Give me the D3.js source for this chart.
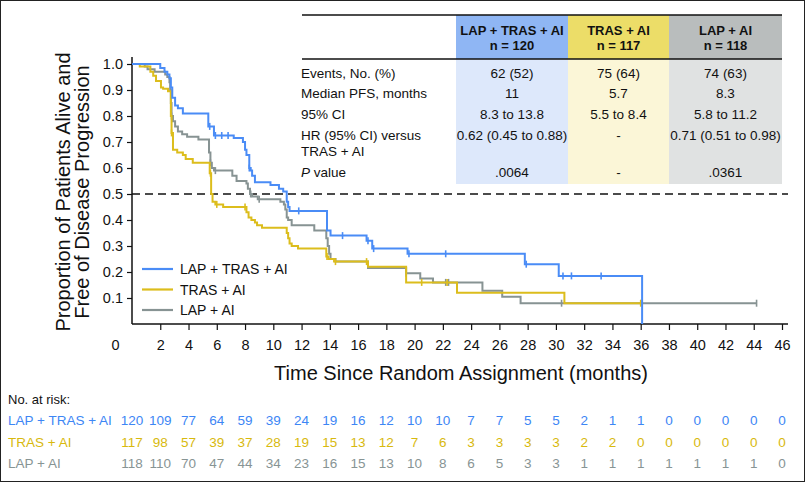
<!DOCTYPE html>
<html><head><meta charset="utf-8">
<script src="https://cdn.jsdelivr.net/npm/d3@7"></script>
<style>body{margin:0;background:#fff}svg{display:block}text{font-family:"Liberation Sans",Arial,Helvetica,sans-serif}</style>
</head><body><svg id="c" width="805" height="482"></svg>
<script>
const groups = ["LAP + TRAS + AI", "TRAS + AI", "LAP + AI"];
const colors = ["#4a8cf6", "#dcbd1c", "#879393"];

// Kaplan-Meier steps: [time (months), survival from that time on]
const stepsLTA = [[0,1.0],[2.0,0.985],[2.3,0.97],[2.5,0.96],[2.65,0.945],[2.75,0.91],[2.85,0.87],[3.05,0.84],[3.25,0.83],[3.6,0.81],[5.4,0.76],[5.8,0.725],[7.2,0.715],[7.85,0.70],[8.0,0.67],[8.1,0.65],[8.3,0.60],[8.4,0.59],[8.5,0.57],[8.7,0.545],[9.8,0.535],[10.4,0.52],[10.7,0.51],[10.95,0.47],[11.05,0.45],[11.15,0.435],[13.8,0.36],[14.05,0.34],[16.6,0.32],[17.0,0.29],[19.5,0.27],[27.8,0.23],[30.2,0.185],[36.1,0]];
const censLTA = [5.5,5.9,6.35,6.8,8.3,11.8,14.9,16.7,17.1,19.6,22.2,27.9,30.5,31.1,33.2];
const endLTA = 36.1;

const stepsTA = [[0,1.0],[0.55,0.99],[1.3,0.97],[1.5,0.955],[1.7,0.935],[2.05,0.91],[2.2,0.905],[2.55,0.895],[2.75,0.80],[2.8,0.735],[2.9,0.67],[3.2,0.66],[3.6,0.65],[3.8,0.635],[4.3,0.62],[5.5,0.58],[5.6,0.50],[5.7,0.47],[5.9,0.46],[6.45,0.45],[8.1,0.43],[8.25,0.41],[8.45,0.40],[8.7,0.39],[8.85,0.38],[9.2,0.37],[10.95,0.35],[11.05,0.33],[11.15,0.31],[11.3,0.30],[11.75,0.29],[13.75,0.26],[13.9,0.25],[14.3,0.24],[16.7,0.22],[19.4,0.16],[23.0,0.12],[30.6,0.08]];
const censTA = [2.8,5.55,6.0,8.0,13.8,14.4,16.6,20.5,22.3,36.0];
const endTA = 36.1;

const stepsLA = [[0,1.0],[0.9,0.99],[1.1,0.98],[1.6,0.97],[2.35,0.96],[2.5,0.95],[2.65,0.93],[2.7,0.90],[2.75,0.85],[2.8,0.80],[2.9,0.78],[3.05,0.76],[3.25,0.74],[3.55,0.73],[3.9,0.72],[4.7,0.71],[5.45,0.66],[5.55,0.62],[5.65,0.60],[5.8,0.59],[7.1,0.57],[7.4,0.55],[8.1,0.54],[8.2,0.52],[8.35,0.50],[8.5,0.49],[8.9,0.48],[10.5,0.47],[10.75,0.46],[10.85,0.44],[10.95,0.41],[11.05,0.40],[11.3,0.38],[12.9,0.36],[13.75,0.33],[13.85,0.30],[13.95,0.27],[14.05,0.25],[14.4,0.24],[16.7,0.215],[19.4,0.195],[20.4,0.175],[21.3,0.16],[24.8,0.128],[26.2,0.105],[27.5,0.08]];
const censLA = [2.8,5.55,5.9,8.4,9.0,19.4,22.2,22.4,30.4,44.2];
const endLA = 44.2;

const xTicks = d3.range(0, 47, 2);
const yTicks = [0.1,0.2,0.3,0.4,0.5,0.6,0.7,0.8,0.9,1.0];

const atRiskLTA = [120,109,77,64,59,39,24,19,16,12,10,10,7,7,5,5,2,1,1,0,0,0,0,0];
const atRiskTA  = [117,98,57,39,37,28,19,15,13,12,7,6,3,3,3,3,2,2,0,0,0,0,0,0];
const atRiskLA  = [118,110,70,47,44,34,23,16,15,13,10,8,6,5,3,3,1,1,1,1,1,1,1,0];

const tableRows = [["Events, No. (%)"],["Median PFS, months"],["95% CI"],["HR (95% CI) versus","TRAS + AI"],["P value"]];
const tableHead = [["LAP + TRAS + AI","n = 120"],["TRAS + AI","n = 117"],["LAP + AI","n = 118"]];
const tableLTA = ["62 (52)","11","8.3 to 13.8","0.62 (0.45 to 0.88)",".0064"];
const tableTA  = ["75 (64)","5.7","5.5 to 8.4","-","-"];
const tableLA  = ["74 (63)","8.3","5.8 to 11.2","0.71 (0.51 to 0.98)",".0361"];

const svg = d3.select("#c");
svg.append("rect").attr("x",0.5).attr("y",0.5).attr("width",804).attr("height",481).attr("fill","#fff").attr("stroke","#222").attr("stroke-width",1);

const x = d3.scaleLinear().domain([0,46]).range([132,782]);
const y = d3.scaleLinear().domain([0,1]).range([324,64]);

// table
const colX = [456,568,669,782];
const headBg = ["#8fb6f4","#ecdd68","#b9bdbd"];
const bodyBg = ["#dde8fb","#fbf6d7","#e0e2e2"];
const tTop = 15, tHead = 59, tBot = 184;
for (let i=0;i<3;i++){
  svg.append("rect").attr("x",colX[i]).attr("y",tTop).attr("width",colX[i+1]-colX[i]).attr("height",tHead-tTop).attr("fill",headBg[i]);
  svg.append("rect").attr("x",colX[i]).attr("y",tHead).attr("width",colX[i+1]-colX[i]).attr("height",tBot-tHead).attr("fill",bodyBg[i]);
}
svg.append("line").attr("x1",302).attr("x2",782).attr("y1",tTop).attr("y2",tTop).attr("stroke","#111").attr("stroke-width",1.5);
svg.append("line").attr("x1",302).attr("x2",782).attr("y1",tHead).attr("y2",tHead).attr("stroke","#111").attr("stroke-width",1.5);
tableHead.forEach((h,i)=>{
  const cx=(colX[i]+colX[i+1])/2;
  h.forEach((s,j)=>svg.append("text").attr("x",cx).attr("y",35+j*15).attr("text-anchor","middle").attr("font-size",13).attr("font-weight","bold").attr("fill","#111").text(s));
});
const rowY = [78,98,119,140,177];
tableRows.forEach((r,k)=>{
  r.forEach((s,j)=>{
    const t = svg.append("text").attr("x",301).attr("y",rowY[k]+j*16).attr("font-size",13.5).attr("fill","#111");
    if (s==="P value"){ t.append("tspan").attr("font-style","italic").text("P"); t.append("tspan").text(" value"); }
    else t.text(s);
  });
});
[tableLTA,tableTA,tableLA].forEach((col,i)=>{
  const cx=(colX[i]+colX[i+1])/2;
  col.forEach((s,k)=>svg.append("text").attr("x",cx).attr("y",rowY[k]).attr("text-anchor","middle").attr("font-size",13.5).attr("fill","#111").text(s));
});

// dashed median line
svg.append("line").attr("x1",x(0)).attr("x2",788).attr("y1",y(0.5)).attr("y2",y(0.5)).attr("stroke","#111").attr("stroke-width",1.6).attr("stroke-dasharray","8,5");

// axes
const yAxis = d3.axisLeft(y).tickValues(yTicks).tickFormat(d3.format(".1f")).tickSize(5).tickSizeOuter(0);
const gy = svg.append("g").attr("transform",`translate(${x(0)},0)`).call(yAxis);
gy.select(".domain").attr("d",`M0,57V${y(0)}`).attr("stroke","#111").attr("stroke-width",1.5);
gy.selectAll(".tick line").attr("stroke","#111").attr("stroke-width",1.2);
gy.selectAll(".tick text").attr("font-size",14.5).attr("fill","#111").attr("x",-9).attr("font-family","Liberation Sans, Arial, sans-serif");

const xAxis = d3.axisBottom(x).tickValues(xTicks).tickFormat(d3.format("d")).tickSize(6).tickSizeOuter(0);
const gx = svg.append("g").attr("transform",`translate(0,${y(0)})`).call(xAxis);
gx.select(".domain").attr("d",`M${x(0)},0H788`).attr("stroke","#111").attr("stroke-width",1.5);
gx.selectAll(".tick line").attr("stroke","#111").attr("stroke-width",1.2).filter(d=>d===0).remove();
gx.selectAll(".tick text").attr("font-size",14.5).attr("fill","#111").attr("y",16).attr("font-family","Liberation Sans, Arial, sans-serif");
gx.selectAll(".tick text").filter(d=>d===0).attr("x",-17);

svg.append("text").attr("x",461).attr("y",380).attr("text-anchor","middle").attr("font-size",20).attr("fill","#111").text("Time Since Random Assignment (months)");
svg.append("text").attr("transform","translate(70,192) rotate(-90)").attr("text-anchor","middle").attr("font-size",20).attr("fill","#111").text("Proportion of Patients Alive and");
svg.append("text").attr("transform","translate(89,192) rotate(-90)").attr("text-anchor","middle").attr("font-size",20).attr("fill","#111").text("Free of Disease Progression");

// curves
const series = [[stepsLTA,censLTA,endLTA],[stepsTA,censTA,endTA],[stepsLA,censLA,endLA]];
const line = d3.line().x(d=>x(d[0])).y(d=>y(d[1])).curve(d3.curveStepAfter);
function survAt(steps,t){ let s=steps[0][1]; for(const p of steps){ if(p[0]<=t) s=p[1]; } return s; }
[2,1,0].forEach(i=>{
  const [steps,cens,end]=series[i];
  const pts = steps.slice();
  if (end > pts[pts.length-1][0]) pts.push([end, pts[pts.length-1][1]]);
  svg.append("path").datum(pts).attr("d",line).attr("fill","none").attr("stroke",colors[i]).attr("stroke-width",2);
  svg.append("g").selectAll("line").data(cens).join("line")
    .attr("x1",d=>x(d)).attr("x2",d=>x(d)).attr("y1",d=>y(survAt(steps,d))-3.5).attr("y2",d=>y(survAt(steps,d))+3.5)
    .attr("stroke",colors[i]).attr("stroke-width",1.6);
});

// legend
groups.forEach((g,i)=>{
  const ly = 269 + i*20.5;
  svg.append("line").attr("x1",142).attr("x2",173).attr("y1",ly).attr("y2",ly).attr("stroke",colors[i]).attr("stroke-width",2.2);
  svg.append("text").attr("x",180).attr("y",ly+5).attr("font-size",14).attr("fill","#111").text(g);
});

// number at risk
svg.append("text").attr("x",8).attr("y",404).attr("font-size",13).attr("fill","#111").text("No. at risk:");
const riskText = ["#3d86f5","#d8b90e","#879494"];
[atRiskLTA,atRiskTA,atRiskLA].forEach((arr,i)=>{
  const ry = 425 + i*21.5;
  svg.append("text").attr("x",8).attr("y",ry).attr("font-size",13.5).attr("fill",riskText[i]).text(groups[i]);
  svg.append("g").selectAll("text").data(arr).join("text")
    .attr("x",(d,k)=>x(xTicks[k])).attr("y",ry).attr("text-anchor","middle").attr("font-size",13.5).attr("fill",riskText[i]).text(d=>d);
});
</script></body></html>
